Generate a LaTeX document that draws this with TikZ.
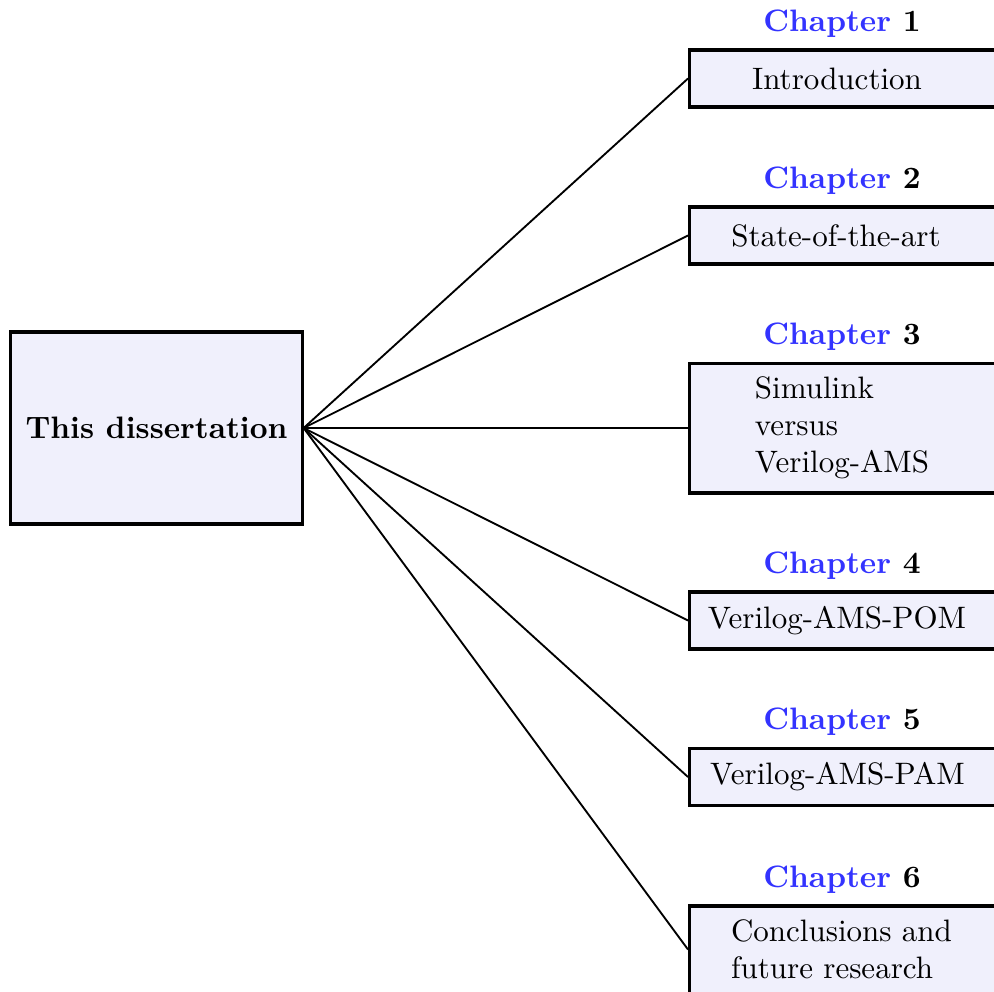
\documentclass[tikz,border=0pt]{standalone}
\definecolor{boxbg}{RGB}{240,240,252}
\definecolor{chapblue}{RGB}{51,51,255}
\begin{document}
\begin{tikzpicture}[x=0.3225pt,y=-0.3225pt,
  framed/.style={draw=black, fill=boxbg, line width=1pt, rectangle},
  chbox/.style={framed, anchor=west, minimum width=115pt, inner sep=0pt},
  chtext/.style={align=left, inner sep=0pt},
  chlabel/.style={anchor=base, inner sep=0pt, font=\bfseries},
  link/.style={line width=0.6pt}]
\useasboundingbox (0,0) rectangle (994,991);

% central node
\node[framed, minimum width=93.9pt, minimum height=61.9pt, font=\bfseries]
  (diss) at (156.5,428) {This dissertation};

% chapter boxes (they run past the right and bottom margins)
\node[chbox, minimum height=18.4pt] (c1) at (688,78.5) {};
\node[chbox, minimum height=18.4pt] (c2) at (688,235.5) {};
\node[chbox, minimum height=41.9pt] (c3) at (688,428) {};
\node[chbox, minimum height=18.4pt] (c4) at (688,620.5) {};
\node[chbox, minimum height=18.4pt] (c5) at (688,777) {};
\node[chbox, minimum height=28.1pt] (c6) at (688,949.5) {};

% box contents
\node[chtext] (t1) at (837,78.5) {Introduction};
\node[chtext] (t2) at (836,235.5) {State-of-the-art};
\node[chtext] (t3) at (842,428) {Simulink\\versus\\Verilog-AMS};
\node[chtext] (t4) at (837,620.5) {Verilog-AMS-POM};
\node[chtext] (t5) at (837.5,777) {Verilog-AMS-PAM};
\node[chtext] (t6) at (841.5,949) {Conclusions and\\future research};

% chapter headings
\node[chlabel] (h1) at (842,31.5)  {\textcolor{chapblue}{Chapter} 1};
\node[chlabel] (h2) at (842,188.5) {\textcolor{chapblue}{Chapter} 2};
\node[chlabel] (h3) at (842,344.5) {\textcolor{chapblue}{Chapter} 3};
\node[chlabel] (h4) at (842,573.5) {\textcolor{chapblue}{Chapter} 4};
\node[chlabel] (h5) at (842,729.5) {\textcolor{chapblue}{Chapter} 5};
\node[chlabel] (h6) at (842,887.5) {\textcolor{chapblue}{Chapter} 6};

% connectors
\foreach \c in {c1,c2,c3,c4,c5,c6}
  \draw[link] (diss.east) -- (\c.west);
\end{tikzpicture}
\end{document}
